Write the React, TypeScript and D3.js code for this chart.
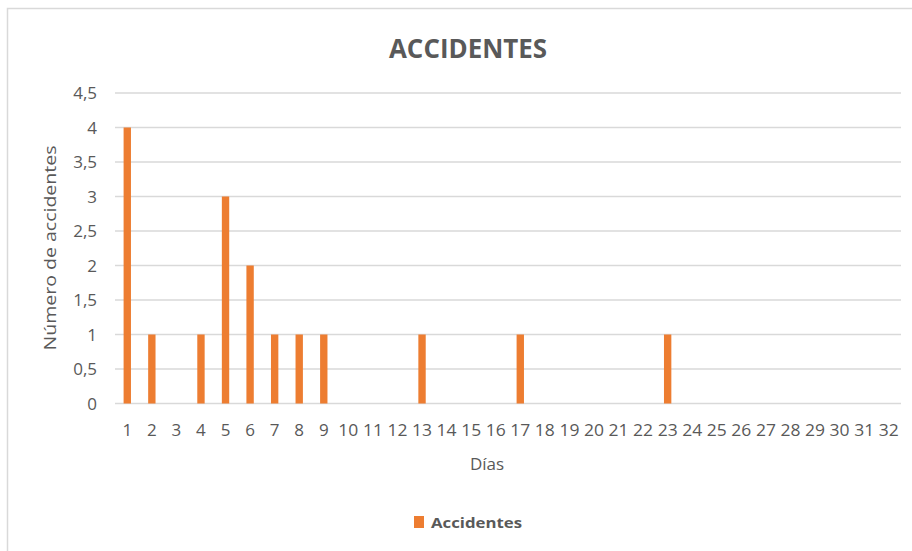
import React from "react";
import * as d3 from "d3";

const days: string[] = Array.from({ length: 32 }, (_, i) => String(i + 1));
const accidents: number[] = [4, 1, 0, 1, 3, 2, 1, 1, 1, 0, 0, 0, 1, 0, 0, 0, 1, 0, 0, 0, 0, 0, 1, 0, 0, 0, 0, 0, 0, 0, 0, 0];
const yTicks: number[] = [0, 0.5, 1, 1.5, 2, 2.5, 3, 3.5, 4, 4.5];
const title = "ACCIDENTES";
const yTitle = "Número de accidentes";
const xTitle = "Días";
const seriesName = "Accidentes";

const W = 912;
const H = 551;
const left = 115;
const right = 901;
const top = 93;
const bottom = 403.5;
const orange = "#ED7D31";
const grey = "#595959";
const font = "'Open Sans', 'Liberation Sans', sans-serif";

export default function App() {
  const x = d3.scaleBand<string>().domain(days).range([left, right]).paddingInner(0.7).paddingOuter(0.35);
  const xc = d3.scaleBand<string>().domain(days).range([left, right]);
  const y = d3.scaleLinear().domain([0, 4.5]).range([bottom, top]);
  const fmt = (v: number) => String(v).replace(".", ",");
  return (
    <svg width={W} height={H} style={{ position: "absolute", left: 0, top: 0, background: "#fff" }}>
      <rect x={7.5} y={8.5} width={W + 10} height={H + 10} fill="#fff" stroke="#d9d9d9" strokeWidth={1.5} />
      <text x={468} y={58} textAnchor="middle" fontFamily={font} fontWeight="bold" fontSize={27} fill={grey} textLength={158} lengthAdjust="spacingAndGlyphs">{title}</text>
      {yTicks.map((t) => (
        <g key={t}>
          <line x1={left} x2={right} y1={y(t)} y2={y(t)} stroke="#d9d9d9" strokeWidth={1.5} />
          <text x={97} y={y(t) + 6} textAnchor="end" fontFamily={font} fontSize={17} fill={grey}>{fmt(t)}</text>
        </g>
      ))}
      {days.map((d, i) => (
        <g key={d}>
          {accidents[i] > 0 && (
            <rect x={x(d)} y={y(accidents[i])} width={x.bandwidth()} height={bottom - y(accidents[i])} fill={orange} />
          )}
          <text x={(xc(d) as number) + xc.bandwidth() / 2} y={436} textAnchor="middle" fontFamily={font} fontSize={17} fill={grey} textLength={d.length > 1 ? 20 : undefined} lengthAdjust="spacingAndGlyphs">{d}</text>
        </g>
      ))}
      <text transform={`translate(56,248) rotate(-90)`} textAnchor="middle" fontFamily={font} fontSize={17} fill={grey} textLength={205} lengthAdjust="spacingAndGlyphs">{yTitle}</text>
      <text x={487} y={470} textAnchor="middle" fontFamily={font} fontSize={17} fill={grey}>{xTitle}</text>
      <rect x={414} y={516} width={10} height={12} fill={orange} />
      <text x={431} y={528} fontFamily={font} fontWeight="bold" fontSize={15} fill={grey} textLength={91} lengthAdjust="spacingAndGlyphs">{seriesName}</text>
    </svg>
  );
}
